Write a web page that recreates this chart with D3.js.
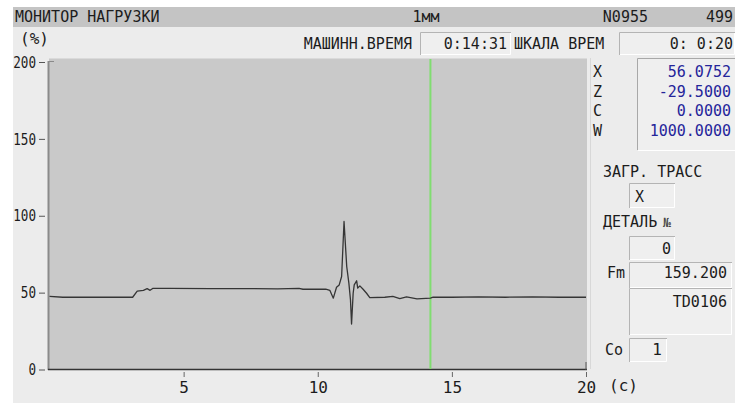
<!DOCTYPE html>
<html>
<head>
<meta charset="utf-8">
<script src="https://cdn.jsdelivr.net/npm/d3@7"></script>
<style>
  html, body { margin: 0; padding: 0; background: #ffffff; }
  svg { display: block; }
  text { font-family: "DejaVu Sans Mono", "Liberation Mono", monospace; font-size: 15px; fill: #1c1c1c; }
</style>
</head>
<body>
<svg id="chart" width="735" height="403"></svg>
<script>
// Load trace samples: time (s) and load (%)
const traceTime = [0, 0.5, 3.1, 3.27, 3.5, 3.64, 3.75, 3.86, 4.5, 6.0, 7.5, 8.5, 9.3, 9.45, 10.3, 10.45, 10.58, 10.7, 10.8, 10.89, 10.98, 11.08, 11.16, 11.22, 11.26, 11.32, 11.36, 11.45, 11.49, 11.57, 11.69, 11.82, 11.94, 12.5, 12.8, 13.06, 13.31, 13.7, 14.2, 14.3, 15, 16, 17, 18, 19, 20];
const traceLoad = [47.6, 47.0, 47.0, 51.0, 51.5, 52.6, 51.5, 52.8, 52.7, 52.6, 52.6, 52.4, 52.8, 52.2, 52.3, 51.5, 46.4, 53.5, 55.0, 60.5, 96.3, 67.0, 56.2, 45.3, 29.6, 49.6, 55.0, 57.7, 52.9, 54.4, 52.2, 49.6, 46.8, 47.0, 47.5, 46.1, 47.2, 46.0, 46.4, 47.0, 47.0, 47.2, 47.0, 47.3, 47.0, 47.0];

const xTicks = [5, 10, 15, 20];
const yTicks = [0, 50, 100, 150, 200];
const cursorTime = 14.2;

// Axis readouts
const axisNames = ["X", "Z", "C", "W"];
const axisValues = ["56.0752", "-29.5000", "0.0000", "1000.0000"];

const svg = d3.select("#chart");

// Screen backgrounds
svg.append("rect").attr("x", 13).attr("y", 7).attr("width", 722).attr("height", 396).attr("fill", "#ececec");
svg.append("rect").attr("x", 13).attr("y", 7).attr("width", 722).attr("height", 20).attr("fill", "#c4c4c4");

// Title row
svg.append("text").attr("x", 15).attr("y", 22).text("МОНИТОР НАГРУЗКИ");
svg.append("text").attr("x", 426).attr("y", 22).attr("text-anchor", "middle").text("1мм");
svg.append("text").attr("x", 648).attr("y", 22).attr("text-anchor", "end").text("N0955");
svg.append("text").attr("x", 733).attr("y", 22).attr("text-anchor", "end").text("499");

// Second row: unit and time fields
svg.append("text").attr("x", 20).attr("y", 44).style("font-size", "16px").text("(%)");
svg.append("text").attr("x", 412).attr("y", 49).attr("text-anchor", "end").text("МАШИНН.ВРЕМЯ");

function field(x, y, w, h) {
  const g = svg.append("g");
  g.append("rect").attr("x", x).attr("y", y).attr("width", w).attr("height", h).attr("fill", "#efefef");
  g.append("path").attr("d", `M${x + 0.5},${y + h} V${y + 0.5} H${x + w}`).attr("fill", "none").attr("stroke", "#b4b4b4");
  g.append("path").attr("d", `M${x + 1},${y + h - 0.5} H${x + w - 0.5} V${y + 1}`).attr("fill", "none").attr("stroke", "#ffffff");
  return g;
}

field(420, 32, 91, 23);
svg.append("text").attr("x", 507).attr("y", 49).attr("text-anchor", "end").text("0:14:31");
svg.append("text").attr("x", 514).attr("y", 49).text("ШКАЛА ВРЕМ");
field(619, 32, 116, 23);
svg.append("text").attr("x", 733).attr("y", 49).attr("text-anchor", "end").text("0: 0:20");

// Plot area
const x = d3.scaleLinear().domain([0, 20]).range([49.5, 586]);
const y = d3.scaleLinear().domain([0, 200]).range([369.5, 62]);

svg.append("rect").attr("x", 49).attr("y", 59).attr("width", 538).attr("height", 310.5).attr("fill", "#c9c9c9");
svg.append("line").attr("x1", 49).attr("x2", 587).attr("y1", 58.5).attr("y2", 58.5).attr("stroke", "#dadada");
svg.append("line").attr("x1", 590.5).attr("x2", 590.5).attr("y1", 58).attr("y2", 369).attr("stroke", "#d8d8d8");

// Y axis (narrow digits)
const yAxis = svg.append("g").attr("transform", "translate(45,0)")
  .call(d3.axisLeft(y).tickValues(yTicks).tickSize(6).tickPadding(3).tickFormat(d3.format("d")));
yAxis.select(".domain").remove();
yAxis.selectAll("line").attr("stroke", "#555");
yAxis.selectAll("text").attr("fill", "#1c1c1c").style("font-size", "16px").style("font-family", "DejaVu Sans Mono")
  .attr("textLength", d => String(d).length * 7.6).attr("lengthAdjust", "spacingAndGlyphs");
svg.append("line").attr("x1", 48.5).attr("x2", 48.5).attr("y1", 61).attr("y2", 370).attr("stroke", "#8a8a8a").attr("stroke-width", 2);
svg.append("line").attr("x1", 48).attr("x2", 54).attr("y1", 61.5).attr("y2", 61.5).attr("stroke", "#8a8a8a");

// X axis
svg.append("line").attr("x1", 48).attr("x2", 587).attr("y1", 369.5).attr("y2", 369.5).attr("stroke", "#333").attr("stroke-width", 1.5);
svg.append("line").attr("x1", x(20)).attr("x2", x(20)).attr("y1", 362).attr("y2", 370).attr("stroke", "#555");
const xAxis = svg.append("g").attr("transform", "translate(0,372)")
  .call(d3.axisBottom(x).tickValues(xTicks).tickSize(5).tickPadding(5).tickFormat(d3.format("d")));
xAxis.select(".domain").remove();
xAxis.selectAll("line").attr("stroke", "#666");
xAxis.selectAll("text").attr("fill", "#1c1c1c").style("font-size", "16px").style("font-family", "DejaVu Sans Mono");
svg.append("text").attr("x", 609).attr("y", 391).style("font-size", "16px").text("(c)");

// Time cursor
svg.append("line").attr("x1", x(cursorTime)).attr("x2", x(cursorTime)).attr("y1", 59).attr("y2", 369)
  .attr("stroke", "#80dd70").attr("stroke-width", 2);

// Load trace
const pts = traceTime.map((t, i) => [t, traceLoad[i]]);
svg.append("path").datum(pts)
  .attr("d", d3.line().x(d => x(d[0])).y(d => y(d[1])))
  .attr("fill", "none").attr("stroke", "#353535").attr("stroke-width", 1.3).attr("stroke-linejoin", "round");

// Axis position readout
svg.append("rect").attr("x", 637).attr("y", 58).attr("width", 98).attr("height", 92).attr("fill", "#efefef");
svg.append("path").attr("d", "M637.5,150 V58.5 H735").attr("fill", "none").attr("stroke", "#a8a8a8");
svg.append("line").attr("x1", 638).attr("x2", 735).attr("y1", 150.5).attr("y2", 150.5).attr("stroke", "#ffffff");
axisNames.forEach((n, i) => {
  svg.append("text").attr("x", 593).attr("y", 77 + i * 19.7).text(n);
  svg.append("text").attr("x", 731).attr("y", 77 + i * 19.7).attr("text-anchor", "end")
    .style("fill", "#25259a").text(axisValues[i]);
});

// Trace settings
svg.append("text").attr("x", 603).attr("y", 177).text("ЗАГР. ТРАСС");
field(629, 183, 46, 25);
svg.append("text").attr("x", 635).attr("y", 202).text("X");
svg.append("text").attr("x", 603).attr("y", 227).text("ДЕТАЛЬ");
svg.append("text").attr("x", 663).attr("y", 227).style("font-size", "13px").style("fill", "#444").text("№");
field(629, 236, 46, 24);
svg.append("text").attr("x", 671).attr("y", 254).attr("text-anchor", "end").text("0");
svg.append("text").attr("x", 607).attr("y", 278).text("Fm");
field(629, 262, 103, 26);
svg.append("text").attr("x", 727).attr("y", 278).attr("text-anchor", "end").text("159.200");
field(629, 288, 103, 47);
svg.append("text").attr("x", 727).attr("y", 307).attr("text-anchor", "end").text("TD0106");
svg.append("text").attr("x", 605).attr("y", 355).text("Co");
field(629, 338, 38, 24);
svg.append("text").attr("x", 662).attr("y", 355).attr("text-anchor", "end").style("font-size", "16px").text("1");

// Left and top margin of the capture
svg.append("rect").attr("x", 0).attr("y", 0).attr("width", 13).attr("height", 403).attr("fill", "#ffffff");
svg.append("rect").attr("x", 0).attr("y", 0).attr("width", 735).attr("height", 7).attr("fill", "#ffffff");
</script>
</body>
</html>
